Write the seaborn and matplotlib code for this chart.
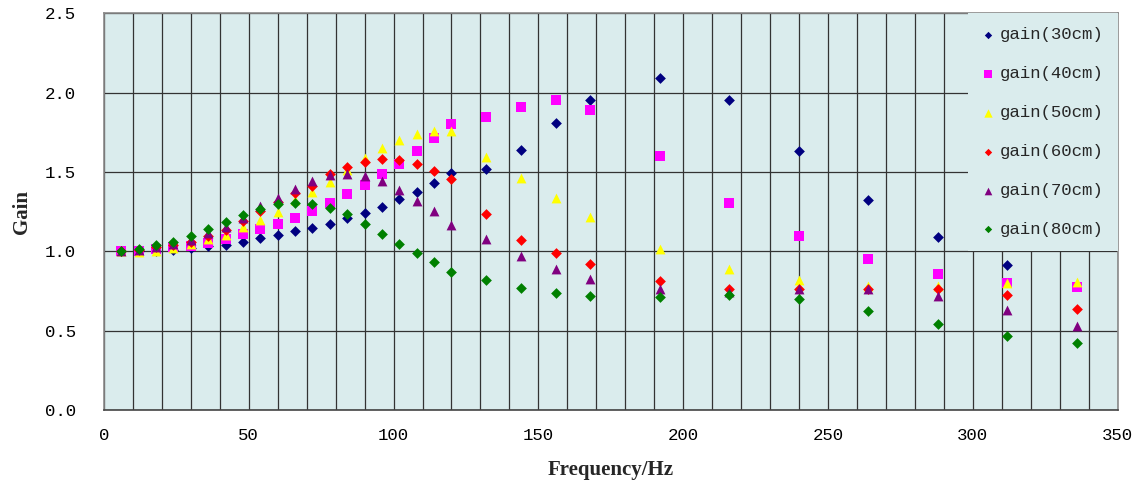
import numpy as np
import pandas as pd
import matplotlib
matplotlib.use("Agg")
import matplotlib.pyplot as plt
import seaborn as sns
from matplotlib.ticker import MultipleLocator

# frequency points (Hz)
freq = [6, 12, 18, 24, 30, 36, 42, 48, 54, 60, 66, 72, 78, 84, 90, 96, 102, 108,
        114, 120, 132, 144, 156, 168, 192, 216, 240, 264, 288, 312, 336]

gain_30 = [1.00, 1.00, 1.005, 1.01, 1.02, 1.035, 1.042, 1.059, 1.082, 1.103, 1.128,
           1.149, 1.172, 1.208, 1.244, 1.280, 1.328, 1.376, 1.429, 1.494, 1.521,
           1.641, 1.811, 1.952, 2.095, 1.952, 1.633, 1.324, 1.089, 0.912, np.nan]
gain_40 = [1.00, 1.005, 1.013, 1.025, 1.034, 1.055, 1.076, 1.107, 1.139, 1.172, 1.210,
           1.254, 1.307, 1.360, 1.416, 1.486, 1.551, 1.634, 1.712, 1.803, 1.845,
           1.908, 1.952, 1.889, 1.601, 1.307, 1.095, 0.952, 0.857, 0.802, 0.773]
gain_50 = [1.00, 0.995, 1.005, 1.019, 1.044, 1.076, 1.103, 1.151, 1.198, 1.250, 1.324,
           1.372, 1.435, 1.51, 1.586, 1.649, 1.702, 1.740, 1.759, 1.756, 1.597,
           1.460, 1.336, 1.214, 1.013, 0.887, 0.819, 0.782, 0.782, 0.799, 0.809]
gain_60 = [1.00, 1.01, 1.025, 1.038, 1.061, 1.097, 1.134, 1.191, 1.256, 1.313, 1.366,
           1.412, 1.486, 1.534, 1.565, 1.580, 1.574, 1.553, 1.504, 1.458, 1.237,
           1.074, 0.992, 0.920, 0.813, 0.765, 0.761, 0.761, 0.761, 0.723, 0.639]
gain_70 = [1.00, 1.01, 1.03, 1.044, 1.071, 1.114, 1.151, 1.208, 1.286, 1.338, 1.393,
           1.443, 1.479, 1.490, 1.477, 1.443, 1.387, 1.319, 1.252, 1.168, 1.080,
           0.973, 0.891, 0.828, 0.765, 0.746, 0.761, 0.761, 0.721, 0.630, 0.529]
gain_80 = [1.00, 1.017, 1.040, 1.061, 1.097, 1.139, 1.183, 1.229, 1.265, 1.297, 1.305,
           1.298, 1.275, 1.235, 1.172, 1.111, 1.048, 0.988, 0.933, 0.870, 0.817,
           0.771, 0.735, 0.719, 0.714, 0.723, 0.702, 0.624, 0.540, 0.466, 0.420]

labels = ['gain(30cm)', 'gain(40cm)', 'gain(50cm)', 'gain(60cm)', 'gain(70cm)', 'gain(80cm)']
series = [gain_30, gain_40, gain_50, gain_60, gain_70, gain_80]
colors = ['#000080', '#ff00ff', '#ffff00', '#ff0000', '#800080', '#008000']
markers = ['D', 's', '^', 'D', '^', 'D']
sizes = [30, 44, 50, 30, 50, 30]
legend_sizes = [14, 36, 36, 14, 30, 14]

bg = '#daeced'

sns.set_theme(style="white")
plt.rcParams['font.family'] = ['Liberation Mono', 'DejaVu Sans']

fig = plt.figure(figsize=(11.4, 4.87), dpi=100)
ax = fig.add_axes([104 / 1140, 1 - 410 / 487, (1117.5 - 104) / 1140, (410 - 13.3) / 487])
ax.set_facecolor(bg)

for lab, vals, c, m, s in zip(labels, series, colors, markers, sizes):
    df = pd.DataFrame({'Frequency': freq, 'Gain': vals}).dropna()
    sns.scatterplot(data=df, x='Frequency', y='Gain', ax=ax, color=c, marker=m,
                    s=s, linewidth=0, label=lab, zorder=3)

ax.set_xlim(0, 350)
ax.set_ylim(0, 2.5)
ax.xaxis.set_minor_locator(MultipleLocator(10))
ax.set_xticks([0, 50, 100, 150, 200, 250, 300, 350])
ax.set_xticklabels(['0', '50', '100', '150', '200', '250', '300', '350'])
ax.set_yticks([0, 0.5, 1.0, 1.5, 2.0, 2.5])
ax.set_yticklabels(['0.0', '0.5', '1.0', '1.5', '2.0', '2.5'])

ax.grid(True, which='both', axis='x', color='#333333', linewidth=0.9)
ax.grid(True, which='major', axis='y', color='#333333', linewidth=0.9)
ax.set_axisbelow(True)
ax.tick_params(axis='both', which='both', length=0, labelsize=12.5, colors='black')
ax.tick_params(axis='x', pad=13)
ax.tick_params(axis='y', pad=20)

for side in ['top', 'right', 'left']:
    ax.spines[side].set_color('#8a8a8a')
    ax.spines[side].set_linewidth(1.2)
ax.spines['bottom'].set_color('#444444')
ax.spines['bottom'].set_linewidth(1.2)

ax.set_xlabel('Frequency/Hz', family='Liberation Serif', fontweight='bold',
              fontsize=15, labelpad=12)
ax.set_ylabel('Gain', family='Liberation Serif', fontweight='bold',
              fontsize=15, labelpad=4)
ax.yaxis.set_label_coords(-0.071, 0.5)

leg = ax.legend(loc='upper right', bbox_to_anchor=(1, 1), borderaxespad=0,
                frameon=True, facecolor=bg, edgecolor=bg, framealpha=1,
                fancybox=False, prop={'family': 'Liberation Mono', 'size': 12.5},
                labelspacing=1.37, handlelength=0.7, handletextpad=0.35,
                borderpad=0.8)
leg.get_frame().set_linewidth(0)
leg.set_zorder(5)
for h, ls in zip(leg.legend_handles, legend_sizes):
    h.set_sizes([ls])

fig.savefig('out.png', dpi=100)
